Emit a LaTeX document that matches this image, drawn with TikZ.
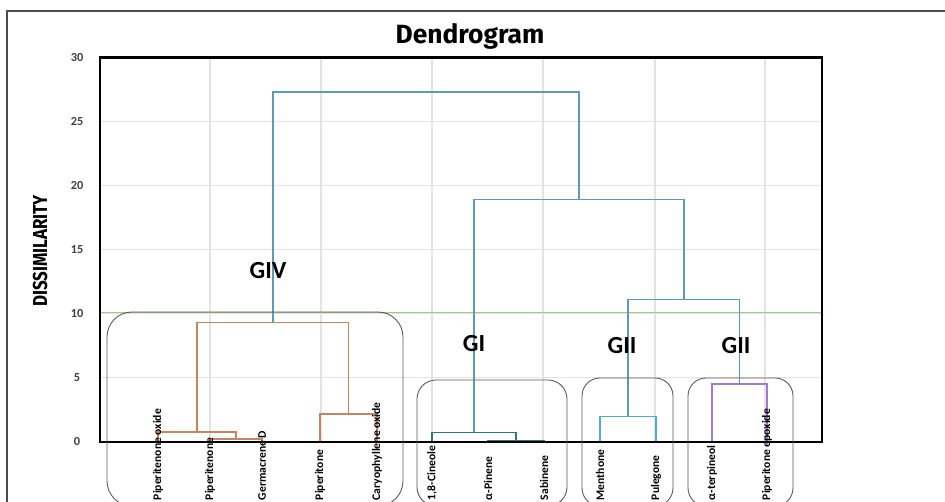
\documentclass[tikz,border=0pt]{standalone}
\usepackage{fontspec}
\setmainfont{Carlito}
\newfontfamily\titlefont{Fira Sans}
\usetikzlibrary{positioning,calc}
\definecolor{linkblue}{HTML}{5E9AB8}
\definecolor{givcol}{HTML}{C8845E}
\definecolor{gicol}{HTML}{2F7A68}
\definecolor{giicol}{HTML}{4FAACB}
\definecolor{giiicol}{HTML}{A27AC6}
\definecolor{cutgreen}{HTML}{9CCB8C}
\tikzset{%
  gridline/.style={draw=gray!22, line width=0.6pt},
  plotframe/.style={draw=black, line width=1.6pt},
  outerframe/.style={draw=gray!60!black, line width=1.1pt},
  link/.style={draw=linkblue, line width=0.9pt},
  giv/.style={draw=givcol, line width=0.9pt},
  gi/.style={draw=gicol, line width=0.9pt},
  gii/.style={draw=giicol, line width=0.9pt},
  giii/.style={draw=giiicol, line width=0.9pt},
  groupbox/.style={draw=gray!70!black, line width=0.5pt},
  leaflabel/.style={rotate=90, anchor=west, inner sep=0pt, font=\fontsize{6.6}{7}\selectfont\bfseries},
  ticklabel/.style={font=\fontsize{7}{8}\selectfont\bfseries, text=black!75},
  grouplabel/.style={font=\fontsize{14}{16}\selectfont\bfseries}
}

\begin{document}
\begin{tikzpicture}[x=0.02cm, y=0.02cm]
  \useasboundingbox (0,0) rectangle (945,502);
  \fill[white] (0,0) rectangle (945,502);
  % outer frame and titles
  \draw[outerframe] (7,-10) |- (960,491);
  \node[font=\titlefont\fontsize{15}{17}\selectfont\bfseries] (title) at (470,466) {Dendrogram};
  \node[rotate=90, font=\titlefont\fontsize{11.5}{13}\selectfont\bfseries] (ylab) at (40,251)
    {\scalebox{0.84}[1]{DISSIMILARITY}};
  \coordinate (base) at (0,1.5);

  \begin{scope}[shift={(0,60)}, y=0.2566cm]
    % grid
    \foreach \gx in {210,321,432,543,655,765}
      \draw[gridline] (\gx,0) -- (\gx,30);
    \foreach \gy in {5,10,...,25}
      \draw[gridline] (100,\gy) -- (822,\gy);
    \foreach \v in {0,5,...,30}
      \node[ticklabel] (t\v) at (77,\v) {\v};
    \coordinate (fl) at (100,0);
    \coordinate (fr) at (822,30);
    \coordinate (cut) at (0,10.1);
    \draw[cutgreen, line width=0.8pt] (cut -| fl) -- (cut -| fr);

    % leaves
    \coordinate (pox) at (158,0);
    \coordinate (pon) at (210,0);
    \coordinate (ger) at (262,0);
    \coordinate (pit) at (320,0);
    \coordinate (car) at (377,0);
    \coordinate (cin) at (432,0);
    \coordinate (pin) at (488,0);
    \coordinate (sab) at (544,0);
    \coordinate (men) at (600,0);
    \coordinate (pul) at (656,0);
    \coordinate (ter) at (712,0);
    \coordinate (epo) at (767,0);
    % merges
    \coordinate (mpg) at (236,0.25);
    \coordinate (mpox) at (197,0.8);
    \coordinate (mpc) at (348.5,2.2);
    \coordinate (miv) at (272.75,9.3);
    \coordinate (mps) at (516,0.12);
    \coordinate (mi) at (474,0.75);
    \coordinate (mmp) at (628,2.0);
    \coordinate (mte) at (739.5,4.5);
    \coordinate (mii) at (683.75,11.1);
    \coordinate (mtop) at (578.9,18.9);
    \coordinate (root) at (425.8,27.3);

    \draw[giv] (pon) |- (mpg) -| (ger);
    \draw[giv] (pox) |- (mpox) -| (mpg);
    \draw[giv] (pit) |- (mpc) -| (car);
    \draw[giv] (mpox) |- (miv) -| (mpc);
    \draw[gi] (pin) |- (mps) -| (sab);
    \draw[gi] (cin) |- (mi) -| (mps);
    \draw[gii] (men) |- (mmp) -| (pul);
    \draw[giii] (ter) |- (mte) -| (epo);
    \draw[link] (mmp) |- (mii) -| (mte);
    \draw[link] (mi) |- (mtop) -| (mii);
    \draw[link] (miv) |- (root) -| (mtop);

    \draw[plotframe] (fl) rectangle (fr);
  \end{scope}

  % group boxes
  \draw[groupbox, rounded corners=0.5cm] (107,-4) rectangle (403,190);
  \draw[groupbox, rounded corners=0.38cm] (417,-4) rectangle (567,122);
  \draw[groupbox, rounded corners=0.36cm] (582,-4) rectangle (673,124);
  \draw[groupbox, rounded corners=0.36cm] (688,-4) rectangle (793,124);

  \node[grouplabel] (glIV) at (268,231) {GIV};
  \node[grouplabel] (glI) at (474,158) {GI};
  \node[grouplabel] (glII) at (622,156) {GII};
  \node[grouplabel] (glIII) at (736,156) {GII};

  % leaf labels
  \node[leaflabel] (lpox) at (pox |- base) {Piperitenone oxide};
  \node[leaflabel] (lpon) at (pon |- base) {Piperitenone};
  \node[leaflabel] (lger) at (ger |- base) {Germacrene D};
  \node[leaflabel] (lpit) at (pit |- base) {Piperitone};
  \node[leaflabel] (lcar) at (car |- base) {Caryophyllene oxide};
  \node[leaflabel] (lcin) at (cin |- base) {1,8-Cineole};
  \node[leaflabel] (lpin) at (pin |- base) {α-Pinene};
  \node[leaflabel] (lsab) at (sab |- base) {Sabinene};
  \node[leaflabel] (lmen) at (men |- base) {Menthone};
  \node[leaflabel] (lpul) at (pul |- base) {Pulegone};
  \node[leaflabel] (lter) at (ter |- base) {α-terpineol};
  \node[leaflabel] (lepo) at (epo |- base) {Piperitone epoxide};
\end{tikzpicture}
\end{document}
